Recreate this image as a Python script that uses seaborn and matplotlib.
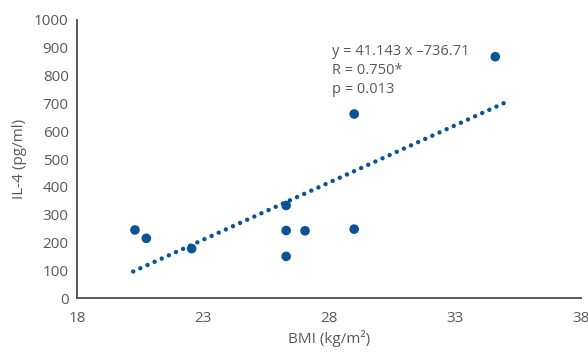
import matplotlib
matplotlib.use("Agg")
import matplotlib.pyplot as plt
import seaborn as sns
import numpy as np
import pandas as pd

bmi = [20.3, 20.75, 22.55, 26.3, 26.3, 26.3, 27.05, 29.0, 29.0, 34.6]
il4 = [245, 215, 178, 333, 243, 150, 242, 248, 662, 868]
slope = 41.143
intercept = -736.71
fit_x = [20.23, 34.95]
annotation = ["y = 41.143 x \u2013736.71", "R = 0.750*", "p = 0.013"]
x_ticks = [18, 23, 28, 33, 38]
y_ticks = list(range(0, 1001, 100))

sns.set_style("white")
plt.rcParams['font.family'] = ['Open Sans', 'DejaVu Sans']

blue = "#0b5394"
grey = "#595959"

fig = plt.figure(figsize=(5.88, 3.57), dpi=100)
ax = fig.add_axes([0.131, 0.165, 0.857, 0.779])

df = pd.DataFrame({"BMI": bmi, "IL4": il4})
sns.scatterplot(data=df, x="BMI", y="IL4", ax=ax, color=blue, s=48,
                edgecolor="none", zorder=3)

fx = np.array(fit_x)
ax.plot(fx, slope * fx + intercept, color=blue, lw=3.2,
        linestyle=(0, (0.01, 1.75)), dash_capstyle="round", zorder=2)

ax.set_xlim(18, 38)
ax.set_ylim(0, 1000)
ax.set_xticks(x_ticks)
ax.set_yticks(y_ticks)
ax.tick_params(axis="both", length=0, labelsize=11, labelcolor=grey)
ax.tick_params(axis="x", pad=9)
ax.tick_params(axis="y", pad=6)
for s in ["top", "right"]:
    ax.spines[s].set_visible(False)
for s in ["left", "bottom"]:
    ax.spines[s].set_color(grey)
    ax.spines[s].set_linewidth(1.4)

ax.set_xlabel("BMI (kg/m\u00b2)", fontsize=11, color=grey, labelpad=3)
ax.set_ylabel("IL-4 (pg/ml)", fontsize=11, color=grey, labelpad=5)

ax.text(0.505, 0.915, "\n".join(annotation), transform=ax.transAxes,
        fontsize=10.5, color=grey, va="top", ha="left", linespacing=1.38)

fig.savefig("out.png", dpi=100)
